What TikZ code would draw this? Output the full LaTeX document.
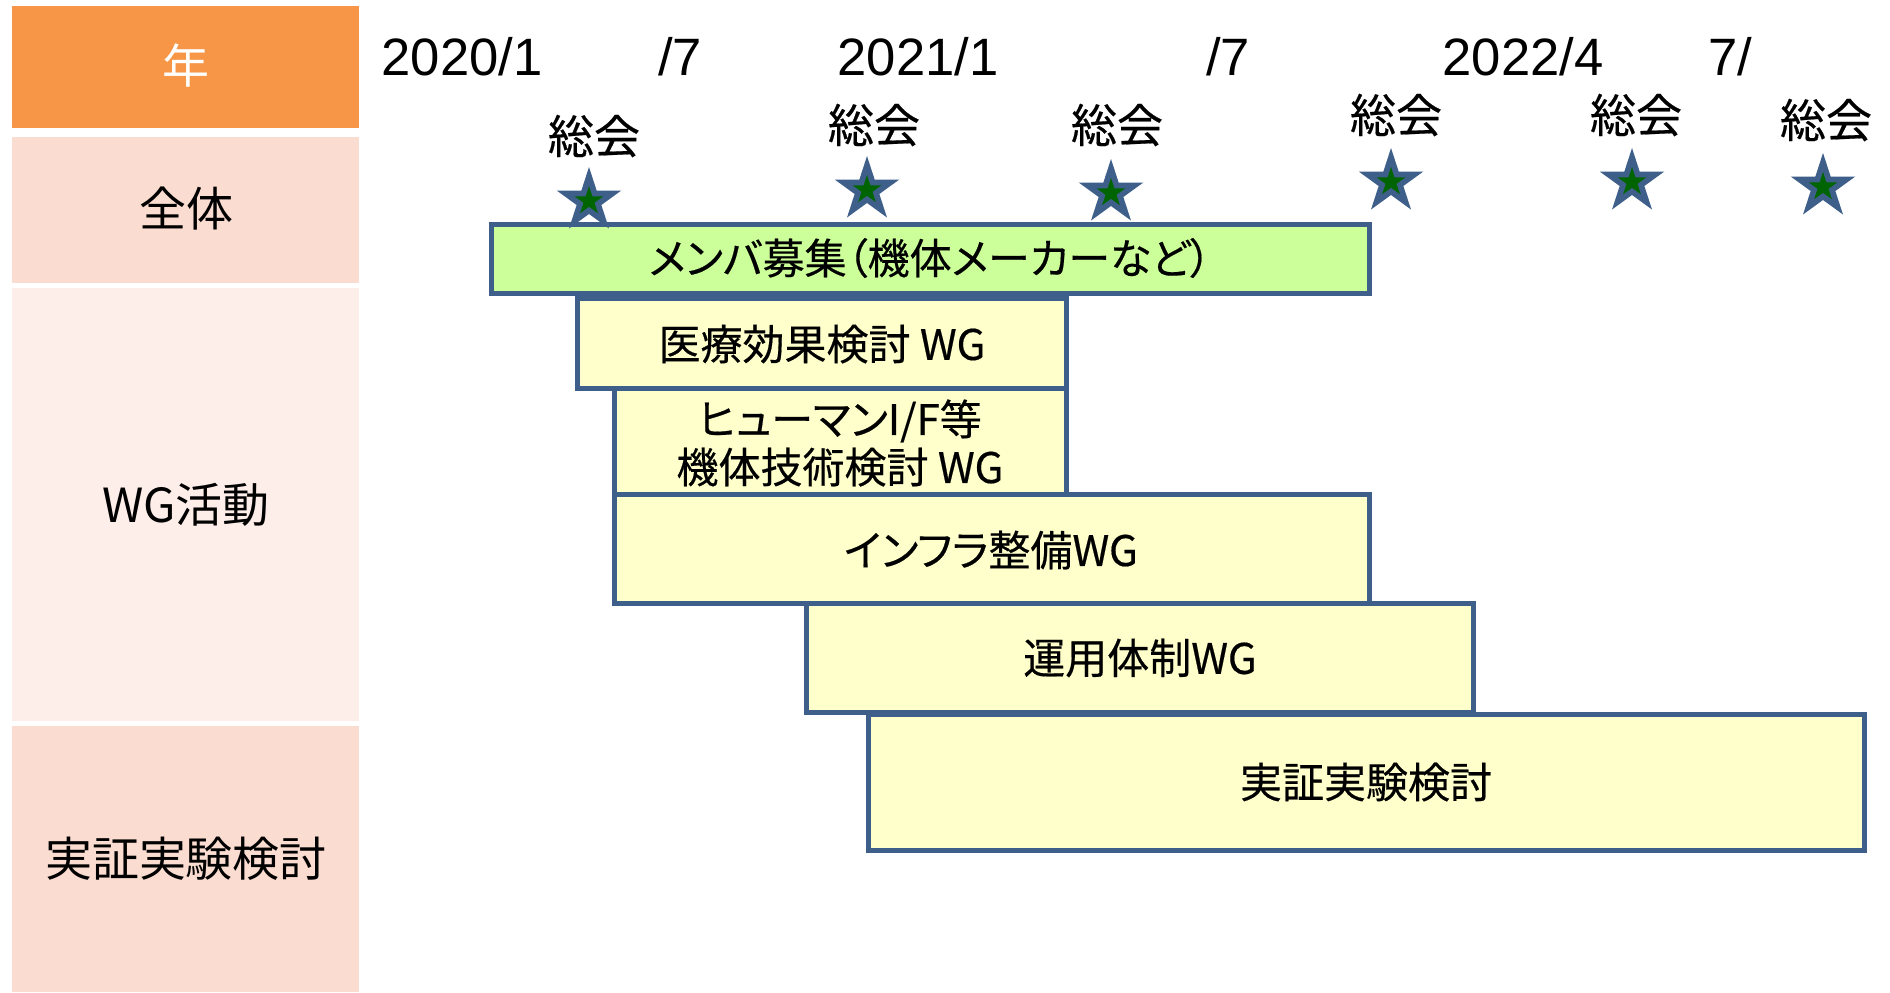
\documentclass[tikz,border=0pt]{standalone}
\usepackage{fontspec}
\setmainfont{Liberation Sans}
\newfontfamily\jp[RawFeature=+palt]{Noto Sans CJK JP}
\newfontfamily\jpb[RawFeature=+palt, FakeBold=0.4]{Noto Sans CJK JP}
\definecolor{hdrorange}{HTML}{F79646}
\definecolor{rowdark}{HTML}{FBDCD0}
\definecolor{rowlight}{HTML}{FDEEE9}
\definecolor{barblue}{HTML}{3E5F8A}
\definecolor{baryellow}{HTML}{FFFFCC}
\definecolor{bargreen}{HTML}{CCFF99}
\definecolor{stargreen}{HTML}{006400}
\newcommand\mystarpath[1]{(270:#1) -- (306:{0.382*#1}) -- (342:#1) -- (18:{0.382*#1}) -- (54:#1) -- (90:{0.382*#1}) -- (126:#1) -- (162:{0.382*#1}) -- (198:#1) -- (234:{0.382*#1}) -- cycle}
\tikzset{
  rowcell/.style={draw=none, inner sep=0pt, outer sep=0pt, anchor=north west},
  rowlbl/.style={inner sep=0pt, font=\jp\fontsize{23.5pt}{28pt}\selectfont},
  bar/.style={draw=barblue, line width=2.5pt, fill=baryellow, inner sep=0pt, outer sep=0pt, anchor=north west},
  bartext/.style={inner sep=0pt, align=center, font=\jpb\fontsize{21pt}{25pt}\selectfont},
  yearlbl/.style={inner sep=0pt, font=\fontsize{26.3pt}{31pt}\selectfont},
  meetlbl/.style={inner sep=0pt, font=\jpb\fontsize{23pt}{27pt}\selectfont},
  gstar/.pic={
    \fill[barblue] \mystarpath{34};
    \fill[stargreen] \mystarpath{15};
  }
}
\begin{document}
\begin{tikzpicture}[x=0.5pt,y=-0.5pt]
\useasboundingbox[fill=white] (0,0) rectangle (1890,992);
% left column
\node[rowcell, fill=hdrorange, minimum width=173.5pt, minimum height=61pt] (hdr) at (12,6) {};
\node[rowlbl, text=white] (hdrt) at (186,66) {年};
\node[rowcell, fill=rowdark, minimum width=173.5pt, minimum height=73pt] (zentai) at (12,137) {};
\node[rowlbl] (zentait) at (186,209) {全体};
\node[rowcell, fill=rowlight, minimum width=173.5pt, minimum height=216.5pt] (wg) at (12,288) {};
\node[rowlbl] (wgt) at (186,505) {WG活動};
\node[rowcell, fill=rowdark, minimum width=173.5pt, minimum height=133pt] (jsk) at (12,726) {};
\node[rowlbl] (jskt) at (186,859) {実証実験検討};
% years
\node[yearlbl] (y1) at (462,57) {2020/1};
\node[yearlbl] (y2) at (680,57) {/7};
\node[yearlbl] (y3) at (918,57) {2021/1};
\node[yearlbl] (y4) at (1228,57) {/7};
\node[yearlbl] (y5) at (1523,57) {2022/4};
\node[yearlbl] (y6) at (1730,57) {7/};
% meetings
\node[meetlbl] (s1) at (594,136) {総会};
\node[meetlbl] (s2) at (874,125) {総会};
\node[meetlbl] (s3) at (1117,125) {総会};
\node[meetlbl] (s4) at (1396,115) {総会};
\node[meetlbl] (s5) at (1636,115) {総会};
\node[meetlbl] (s6) at (1826,120) {総会};
% bars
\node[bar, fill=bargreen, minimum width=439pt, minimum height=34.5pt] (member) at (491,224) {};
\node[bartext] (membert) at (930,258) {メンバ募集（機体メーカーなど）};
\pic at (589,201) {gstar};
\pic at (867,190) {gstar};
\pic at (1111,193) {gstar};
\pic at (1391,182) {gstar};
\pic at (1632,182) {gstar};
\pic at (1823,187) {gstar};
\node[bar, minimum width=244.5pt, minimum height=45pt] (iryo) at (577,298) {};
\node[bartext] (iryot) at (822,344) {医療効果検討 WG};
\node[bar, minimum width=226pt, minimum height=53pt] (human) at (614,388) {};
\node[bartext] (humant) at (840,443) {ヒューマンI/F等\\[-1pt]機体技術検討 WG};
\node[bar, minimum width=377.5pt, minimum height=54.5pt] (infra) at (614,494) {};
\node[bartext] (infrat) at (991,550) {インフラ整備WG};
\node[bar, minimum width=333.5pt, minimum height=54.5pt] (unyo) at (806,603) {};
\node[bartext] (unyot) at (1140,658) {運用体制WG};
\node[bar, minimum width=498pt, minimum height=68pt] (jissho) at (868,714) {};
\node[bartext] (jisshot) at (1366,782) {実証実験検討};
\end{tikzpicture}
\end{document}
